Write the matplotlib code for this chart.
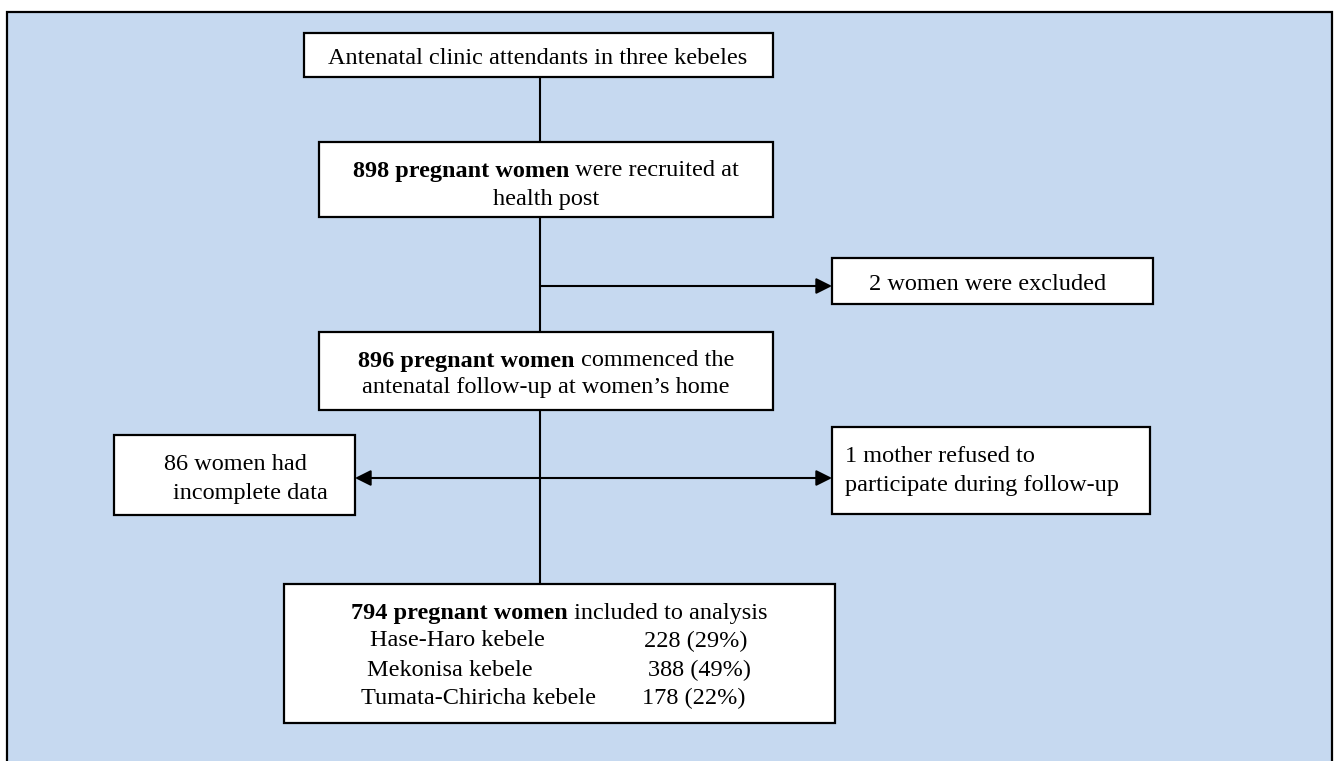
import matplotlib
matplotlib.use('Agg')
import matplotlib.pyplot as plt
from matplotlib.patches import Rectangle, FancyArrowPatch

plt.rcParams['font.family'] = ['Liberation Serif', 'DejaVu Serif']

# numbers in the flow
recruited = 898
excluded = 2
commenced = 896
incomplete = 86
refused = 1
analysed = 794
kebeles = ['Hase-Haro kebele', 'Mekonisa kebele', 'Tumata-Chiricha kebele']
kebele_n = [228, 388, 178]
kebele_pct = [29, 49, 22]

FS = 17.5
BG = '#c6d9f0'
DY = 3  # nudge text down so the letters sit in the middle of the boxes

fig = plt.figure(figsize=(13.36, 7.61), dpi=100, facecolor='white')
ax = fig.add_axes([0, 0, 1, 1])
ax.set_xlim(0, 1336)
ax.set_ylim(761, 0)
ax.axis('off')

# outer panel
ax.add_patch(Rectangle((7, 12), 1325, 800, facecolor=BG, edgecolor='black', lw=1.6, zorder=0))


def box(x0, y0, x1, y1):
    ax.add_patch(Rectangle((x0, y0), x1 - x0, y1 - y0, facecolor='white',
                           edgecolor='black', lw=1.6, zorder=2))


def line(x0, y0, x1, y1):
    ax.plot([x0, x1], [y0, y1], color='black', lw=1.5, zorder=1, solid_capstyle='butt')


def arrow(x0, y0, x1, y1, both=False):
    style = '<|-|>' if both else '-|>'
    ax.add_patch(FancyArrowPatch((x0, y0), (x1, y1), arrowstyle=style + ',head_length=0.6,head_width=0.3',
                                 mutation_scale=16, color='black', lw=1.5, shrinkA=0, shrinkB=0, zorder=3))


def txt(x, y, s, ha='center', **kw):
    return ax.text(x, y + DY, s, fontsize=FS, ha=ha, va='center', zorder=4, **kw)


renderer = fig.canvas.get_renderer()


def mixed(xc, y, bold, rest):
    # bold lead-in followed by normal text, centred as one line
    tb = txt(0, y, bold, ha='left', fontweight='bold')
    tr = txt(0, y, rest, ha='left')
    wb = tb.get_window_extent(renderer).width
    wr = tr.get_window_extent(renderer).width
    x0 = xc - (wb + wr) / 2
    tb.set_x(x0)
    tr.set_x(x0 + wb)


# boxes
box(304, 33, 773, 77)
box(319, 142, 773, 217)
box(832, 258, 1153, 304)
box(319, 332, 773, 410)
box(114, 435, 355, 515)
box(832, 427, 1150, 514)
box(284, 584, 835, 723)

# connectors
line(540, 77, 540, 142)
line(540, 217, 540, 332)
line(540, 410, 540, 584)
arrow(540, 286, 832, 286)
arrow(355, 478, 832, 478, both=True)

# texts
txt(538, 55, 'Antenatal clinic attendants in three kebeles')

mixed(546, 168, f'{recruited} pregnant women', ' were recruited at')
txt(546, 197, 'health post')

txt(988, 282, f'{excluded} women were excluded')

mixed(546, 358, f'{commenced} pregnant women', ' commenced the')
txt(546, 385, 'antenatal follow-up at women\u2019s home')

txt(235, 462, f'{incomplete} women had')
txt(173, 490, 'incomplete data', ha='left')

txt(845, 454, f'{refused} mother refused to', ha='left')
txt(845, 482, 'participate during follow-up', ha='left')

mixed(559.5, 610, f'{analysed} pregnant women', ' included to analysis')
name_x = [370, 367, 361]
num_x = [644, 648, 642]
row_y = [638, 667, 695]
for name, n, p, nx, cx, ry in zip(kebeles, kebele_n, kebele_pct, name_x, num_x, row_y):
    txt(nx, ry, name, ha='left')
    txt(cx, ry, f'{n} ({p}%)', ha='left')

fig.savefig('out.png', dpi=100, facecolor='white')
